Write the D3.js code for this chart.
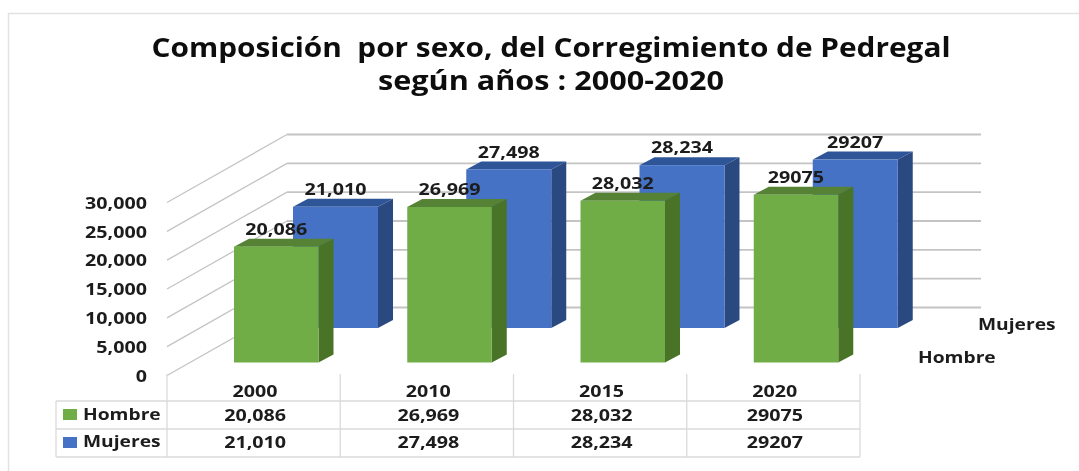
<!DOCTYPE html>
<html><head><meta charset="utf-8">
<script src="https://cdn.jsdelivr.net/npm/d3@7"></script>
<style>html,body{margin:0;padding:0;background:#fff}svg{display:block}
text{font-family:"Open Sans",sans-serif;font-weight:700;fill:#1c1c1c}</style></head><body>
<svg id="c" width="1079" height="471"></svg>
<script>
const titleLines = ["Composición  por sexo, del Corregimiento de Pedregal", "según años : 2000-2020"];
const categories = ["2000", "2010", "2015", "2020"];
const seriesNames = ["Hombre", "Mujeres"];
const hombre = [20086, 26969, 28032, 29075];
const mujeres = [21010, 27498, 28234, 29207];
const hombreLabels = ["20,086", "26,969", "28,032", "29075"];
const mujeresLabels = ["21,010", "27,498", "28,234", "29207"];
const yTicks = [0, 5000, 10000, 15000, 20000, 25000, 30000];

const svg = d3.select("#c");
const defs = svg.append("defs");
defs.append("filter").attr("id","soft").attr("x",0).attr("y",0).attr("width",1).attr("height",1)
  .append("feGaussianBlur").attr("stdDeviation",0.55);
const root = svg.append("g").attr("filter","url(#soft)");
root.append("rect").attr("width",1079).attr("height",471).attr("fill","#fff");

const x = d3.scaleBand().domain(categories).range([167,860]);
const y = d3.scaleLinear().domain([0,30000]).range([375.5,202.5]);
const fmt = d3.format(",");
const wallDx = 120, wallDy = -68, wallRight = 981;
const gridC = "#c4c4c4";

// stretches a label horizontally, as the reference picture is stretched
function stretch(sel, k){
  sel.each(function(){
    const len = this.getComputedTextLength();
    d3.select(this).attr("textLength", len*k).attr("lengthAdjust","spacingAndGlyphs");
  });
  return sel;
}
const K = 1.27, KN = 1.24, FS = "15.5px";

// border
root.append("path").attr("d","M8.5,471V13.5H1079").attr("fill","none").attr("stroke","#e2e2e2").attr("stroke-width",1.5);

// title
root.selectAll(".title").data(titleLines).join("text")
  .attr("x",551).attr("y",(d,i)=>[57,90][i]).attr("text-anchor","middle")
  .attr("textLength",(d,i)=>[799,346][i]).attr("lengthAdjust","spacingAndGlyphs")
  .style("font-size","26px").style("fill","#111").style("white-space","pre").attr("xml:space","preserve").text(d=>d);

// walls
const gridG = root.append("g").attr("fill","none").attr("stroke",gridC);
gridG.selectAll(".d").data(yTicks).join("line")
  .attr("x1",167).attr("y1",d=>y(d)).attr("x2",167+wallDx).attr("y2",d=>y(d)+wallDy).attr("stroke-width",1.3);
gridG.selectAll(".h").data(yTicks).join("line").attr("class","h")
  .attr("x1",167+wallDx).attr("y1",d=>y(d)+wallDy).attr("x2",wallRight).attr("y2",d=>y(d)+wallDy).attr("stroke-width",1.8);

// y ticks
root.selectAll(".yt").data(yTicks).join("text")
  .attr("x",147).attr("y",d=>y(d)+6.3).attr("text-anchor","end")
  .style("font-size",FS).text(fmt).call(stretch,K);

// bars
const bars = [
  {name:"Mujeres", vals:mujeres, labels:mujeresLabels, off:126, base:-47.5, w:85, front:"#4472c4", side:"#2b4a80", top:"#2f5597"},
  {name:"Hombre", vals:hombre, labels:hombreLabels, off:67, base:-13, w:84.5, front:"#70ad47", side:"#4a7327", top:"#548235"}
];
const dx = 15, dy = -8;
const h = v => y(0) - y(v);
const allLabels = [];
bars.forEach(s=>{
  const g = root.append("g"), w = s.w;
  categories.forEach((c,i)=>{
    const x0 = x(c)+s.off, yb = y(0)+s.base, yt = yb-h(s.vals[i]);
    g.append("path").attr("fill",s.top).attr("d",`M${x0},${yt}l${dx},${dy}h${w}l${-dx},${-dy}z`);
    g.append("path").attr("fill",s.side).attr("d",`M${x0+w},${yt}l${dx},${dy}V${yb+dy}l${-dx},${-dy}z`);
    g.append("rect").attr("fill",s.front).attr("x",x0).attr("y",yt).attr("width",w).attr("height",yb-yt);
    allLabels.push({t:s.labels[i],x:x0+w/2,y:yt+dy-3.8});
  });
});
root.selectAll(".dl").data(allLabels).join("text")
  .attr("x",d=>d.x).attr("y",d=>d.y).attr("text-anchor","middle")
  .style("font-size",FS).text(d=>d.t).call(stretch,K);

// depth labels
root.append("text").attr("x",978).attr("y",330).style("font-size",FS).text(seriesNames[1]).call(stretch,KN);
root.append("text").attr("x",918).attr("y",363).style("font-size",FS).text(seriesNames[0]).call(stretch,KN);

// data table
const tLeft = 56, rowY = [401,429,457], tC = "#dadada";
const tb = root.append("g").attr("stroke",tC).attr("stroke-width",1.3);
rowY.forEach(r=>tb.append("line").attr("x1",tLeft).attr("x2",860).attr("y1",r).attr("y2",r));
tb.append("line").attr("x1",tLeft).attr("x2",tLeft).attr("y1",401).attr("y2",457);
x.domain().forEach(c=>tb.append("line").attr("x1",x(c)).attr("x2",x(c)).attr("y1",374).attr("y2",457));
tb.append("line").attr("x1",860).attr("x2",860).attr("y1",374).attr("y2",457);

const cellX = c => x(c)+x.bandwidth()/2+1.5;
root.selectAll(".cat").data(categories).join("text")
  .attr("x",cellX).attr("y",397).attr("text-anchor","middle")
  .style("font-size",FS).text(d=>d).call(stretch,K);
[[hombreLabels,420.5],[mujeresLabels,447.5]].forEach(([arr,yy])=>{
  root.selectAll(null).data(arr).join("text")
   .attr("x",(d,i)=>cellX(categories[i])).attr("y",yy).attr("text-anchor","middle")
   .style("font-size",FS).text(d=>d).call(stretch,K);
});
[["#70ad47",409,420.5,0],["#4472c4",437,447.5,1]].forEach(([col,sy,ty,i])=>{
  root.append("rect").attr("x",63).attr("y",sy).attr("width",14).attr("height",11).attr("fill",col);
  root.append("text").attr("x",83).attr("y",ty-0.5).style("font-size",FS).text(seriesNames[i]).call(stretch,KN);
});
</script></body></html>
